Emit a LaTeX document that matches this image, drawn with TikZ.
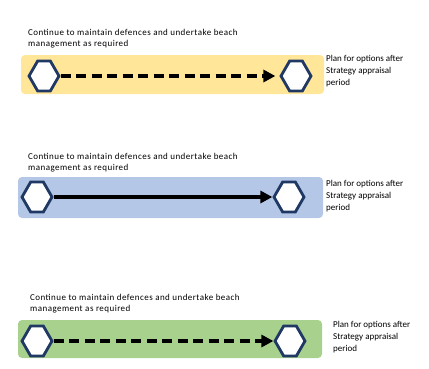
\documentclass[tikz,border=0pt]{standalone}
\usepackage{fontspec}
\setmainfont{Carlito}
\usetikzlibrary{shapes.symbols,arrows.meta}
\definecolor{hexline}{HTML}{1F3864}
\definecolor{bandyellow}{HTML}{FFE699}
\definecolor{bandblue}{HTML}{B4C7E7}
\definecolor{bandgreen}{HTML}{A9D18E}
\begin{document}
\begin{tikzpicture}[x=1pt,y=-1pt,
    hex/.style={draw=hexline, line width=2.8pt, fill=white, signal,
        signal to=east and west, signal pointer angle=120,
        minimum width=30pt, minimum height=30pt, inner sep=0pt},
    note/.style={font=\fontsize{9}{11}\selectfont\addfontfeatures{LetterSpace=5}, align=left,
        anchor=north west, inner sep=0pt},
    sidenote/.style={font=\fontsize{9}{12}\selectfont, align=left,
        anchor=north west, inner sep=0pt},
    flow/.style={line width=4pt, -{Triangle[length=12pt,width=12pt]}},
    broken/.style={dash pattern=on 10pt off 5.5pt}]
    \useasboundingbox (0,0) rectangle (429,368);

    % first option
    \fill[bandyellow, rounded corners=4pt] (21,55) rectangle (324,94);
    \node[note] (t1) at (28,29) {Continue to maintain defences and undertake beach\\management as required};
    \node[hex] (s1) at (44,76) {};
    \node[hex] (e1) at (296,76) {};
    \node[sidenote] (p1) at (326,55) {Plan for options after\\Strategy appraisal\\period};
    \draw [flow, broken] (s1) -- ([xshift=-4pt]e1.west);

    % second option
    \fill[bandblue, rounded corners=4pt] (18,177) rectangle (323,218);
    \node[note] (t2) at (28,153) {Continue to maintain defences and undertake beach\\management as required};
    \node[hex] (s2) at (37,197) {};
    \node[hex] (e2) at (289,197) {};
    \node[sidenote] (p2) at (326,180) {Plan for options after\\Strategy appraisal\\period};
    \draw [flow] (s2) -- (e2);

    % third option
    \fill[bandgreen, rounded corners=4pt] (18,320) rectangle (322,358);
    \node[note] (t3) at (30,294) {Continue to maintain defences and undertake beach\\management as required};
    \node[hex] (s3) at (37,341) {};
    \node[hex] (e3) at (290,341) {};
    \node[sidenote] (p3) at (333,321) {Plan for options after\\Strategy appraisal\\period};
    \draw [flow, broken] (s3) -- (e3);
\end{tikzpicture}
\end{document}
